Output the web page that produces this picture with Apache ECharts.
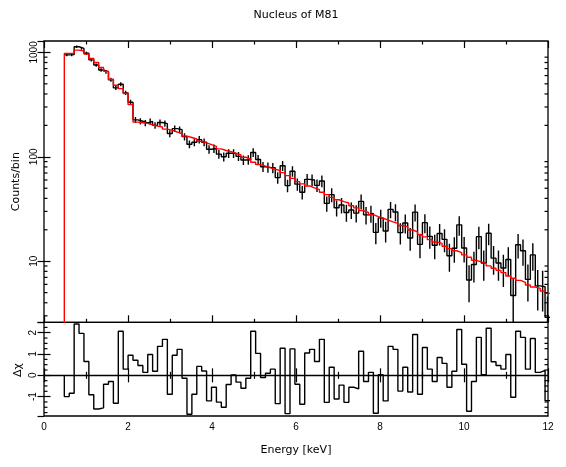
<!DOCTYPE html>
<html><head><meta charset="utf-8">
<script src="https://cdn.jsdelivr.net/npm/echarts@6/dist/echarts.min.js"></script>
<style>html,body{margin:0;padding:0;background:#fff}#c{width:566px;height:467px}</style>
</head><body><div id="c"></div>
<script>
// Bin edges in keV (99 bins)
const binEdges = [0.484,0.601,0.718,0.834,0.951,1.068,1.185,1.302,1.418,1.535,1.652,1.769,1.886,2.002,2.119,2.236,2.353,2.470,2.586,2.703,2.820,2.937,3.054,3.170,3.287,3.404,3.521,3.638,3.754,3.871,3.988,4.105,4.222,4.338,4.455,4.572,4.689,4.806,4.922,5.039,5.156,5.273,5.390,5.506,5.623,5.740,5.857,5.974,6.090,6.207,6.324,6.441,6.558,6.674,6.791,6.908,7.025,7.142,7.258,7.375,7.492,7.609,7.726,7.842,7.959,8.076,8.193,8.310,8.426,8.543,8.660,8.777,8.894,9.010,9.127,9.244,9.361,9.478,9.594,9.711,9.828,9.945,10.062,10.178,10.295,10.412,10.529,10.646,10.762,10.879,10.996,11.113,11.230,11.346,11.463,11.580,11.697,11.814,11.930,12.047];
// Model (red) counts per bin
const modelCounts = [978,978,1052,1029,963,875,801,718,661,554,485,450,404,316,
 215,212,209,203,197,193,184,179,173,166,158,153,148,141,136,131,126,119,115,112,108,104,99,95,
 88.7,84.3,81.3,78.3,76.0,73.8,70.6,66.1,62.2,57.8,55.0,52.6,50.4,48.5,45.7,43.4,40.9,38.8,37.2,36.1,34.0,32.4,30.5,29.3,27.9,26.7,25.8,24.8,23.8,23.0,22.0,
 21.4,19.9,19.1,17.9,17.1,16.1,15.3,14.8,13.9,13.2,12.6,12.1,11.5,10.9,10.2,9.84,9.48,9.02,8.57,8.18,7.78,7.23,6.87,6.56,6.28,5.92,5.66,5.50,5.18,4.92];
// Observed counts per bin
const dataCounts = [947,952,1133,1094,983,849,757,678,650,547,457,496,410,333,
 226,219,211,218,200,213,208,167,186,182,156,132,138,146,138,118,120,106,100,108,108,101,93.1,93.7,
 110,94.3,80.4,79.2,78.6,63.2,82.1,53.0,72.8,54.7,45.8,60.8,59.9,53.3,58.7,35.8,43.4,32.5,34.5,29.3,30.9,28.9,37.4,27.8,28.7,18.9,26.0,19.5,31.4,29.6,18.8,
 23.2,16.7,29.5,14.5,23.4,17.3,14.2,18.4,16.2,11.3,13.3,22.3,13.4,6.6,9.3,17.2,9.6,18.5,10.7,9.6,8.6,10.4,4.7,14.4,12.6,6.7,11.5,5.8,5.7,2.9];
// 1-sigma errors per bin
const dataErrors = [30.8,30.9,33.7,33.1,31.4,29.1,27.5,26.0,25.5,23.4,21.4,22.3,20.2,18.3,
 15.0,14.8,14.5,14.7,14.1,14.6,14.4,12.9,13.6,13.5,12.5,11.5,11.7,12.1,11.8,10.9,11.0,10.3,10.0,10.4,10.4,10.0,9.65,9.68,
 10.5,9.71,8.97,8.9,8.87,7.95,9.06,7.28,8.53,7.4,6.77,7.8,7.74,7.3,7.66,5.99,6.59,5.7,5.87,5.41,5.56,5.38,6.12,5.27,5.35,4.35,5.1,4.42,5.61,5.44,4.34,
 4.82,4.09,5.43,3.81,4.84,4.16,3.77,4.29,4.02,3.36,3.65,4.72,3.66,2.56,3.05,4.15,3.1,4.31,3.27,3.1,2.94,3.22,2.16,3.8,3.55,2.58,3.4,2.42,2.4,1.7];
// Residuals (delta chi) per bin
const residuals = [-1.00,-0.84,2.41,1.97,0.65,-0.91,-1.58,-1.53,-0.42,-0.29,-1.31,2.07,0.29,0.94,
 0.71,0.46,0.14,0.98,0.19,1.36,1.69,-0.89,0.94,1.22,-0.14,-1.83,-0.89,0.42,0.20,-1.20,-0.56,-1.26,-1.50,-0.43,0.02,-0.32,-0.61,-0.14,
 2.07,1.03,-0.10,0.10,0.29,-1.33,1.27,-1.80,1.24,-0.42,-1.36,1.05,1.22,0.65,1.69,-1.27,0.38,-1.11,-0.46,-1.27,-0.56,-0.64,1.13,-0.29,0.14,-1.78,0.03,-1.20,1.36,1.22,-0.74,
 0.38,-0.78,1.92,-0.89,1.31,0.29,-0.29,0.84,0.56,-0.56,0.19,2.15,0.52,-1.69,-0.29,1.78,0.03,2.21,0.64,0.46,0.29,0.98,-1.03,2.07,1.78,0.29,1.73,0.14,0.23,-1.19];
// Axis ticks
const logMinorTicks = [3,4,5,6,7,8,9,20,30,40,50,60,70,80,90,200,300,400,500,600,700,800,900];
const residMinorTicks = [-1.75,-1.5,-1.25,-0.75,-0.5,-0.25,0.25,0.5,0.75,1.25,1.5,1.75,2.25];
const titleText = 'Nucleus of M81';
const xTitle = 'Energy [keV]';
const yTitleTop = 'Counts/bin';
const yTitleBottom = 'Δχ';

const N = modelCounts.length;
const modelLine = [[binEdges[0], 1]];
const dataLine = [];
const resLine = [[binEdges[0], 0]];
const errBars = [];
for (let i = 0; i < N; i++) {
  modelLine.push([binEdges[i], modelCounts[i]]);
  dataLine.push([binEdges[i], dataCounts[i]]);
  resLine.push([binEdges[i], residuals[i]]);
  errBars.push([(binEdges[i] + binEdges[i + 1]) / 2, Math.max(dataCounts[i] - dataErrors[i], 0.5), dataCounts[i] + dataErrors[i]]);
}
modelLine.push([binEdges[N], modelCounts[N - 1]]);
dataLine.push([binEdges[N], dataCounts[N - 1]]);
resLine.push([binEdges[N], residuals[N - 1]]);

const BLACK = '#000';
const LW = 1.4;
const numFont = 'Liberation Sans';
const txtFont = 'DejaVu Sans';

function xAx(gridIndex, position, showLabels) {
  return {
    type: 'value', gridIndex, position, min: 0, max: 12, interval: 2,
    axisLine: { show: false }, splitLine: { show: false },
    axisTick: { show: true, inside: true, length: 7, lineStyle: { color: BLACK, width: 1.2 } },
    minorTick: { show: true, splitNumber: 2, length: 3.5, lineStyle: { color: BLACK, width: 1.2 } },
    minorSplitLine: { show: false },
    axisLabel: { show: showLabels, margin: 6, color: BLACK, fontFamily: numFont, fontSize: 10, formatter: v => String(v) }
  };
}
function yLog(position, showLabels) {
  return {
    type: 'log', logBase: 10, gridIndex: 0, position, min: 2.6, max: 1286,
    axisLine: { show: false }, splitLine: { show: false },
    axisTick: { show: true, inside: true, length: 6.5, lineStyle: { color: BLACK, width: 1.2 } },
    axisLabel: { show: showLabels, rotate: 90, margin: 5, showMinLabel: false, showMaxLabel: false,
      color: BLACK, fontFamily: numFont, fontSize: 10, formatter: v => String(Math.round(v)) }
  };
}
function yRes(position, showLabels) {
  return {
    type: 'value', gridIndex: 1, position, min: -1.91, max: 2.49,
    axisLine: { show: false }, splitLine: { show: false },
    axisTick: { show: true, inside: true, length: 6.5, lineStyle: { color: BLACK, width: 1.2 } },
    axisLabel: { show: showLabels, rotate: 90, margin: 6, showMinLabel: false, showMaxLabel: false,
      color: BLACK, fontFamily: numFont, fontSize: 10, formatter: v => String(v) }
  };
}
function minorTickRender(len, xMin, xMax) {
  return function (params, api) {
    const v = api.value(1);
    const pl = api.coord([xMin, v]);
    const pr = api.coord([xMax, v]);
    const st = { stroke: BLACK, lineWidth: 1.2 };
    return { type: 'group', children: [
      { type: 'line', shape: { x1: pl[0], y1: pl[1], x2: pl[0] + len, y2: pl[1] }, style: st },
      { type: 'line', shape: { x1: pr[0] - len, y1: pr[1], x2: pr[0], y2: pr[1] }, style: st }
    ] };
  };
}

const chart = echarts.init(document.getElementById('c'), null, { renderer: 'canvas' });
chart.setOption({
  animation: false,
  backgroundColor: '#fff',
  grid: [
    { left: 44, width: 504, top: 41, height: 281.3, show: true, borderColor: BLACK, borderWidth: 1.3, backgroundColor: 'transparent', containLabel: false, outerBoundsMode: 'none' },
    { left: 44, width: 504, top: 322.3, height: 93.7, show: true, borderColor: BLACK, borderWidth: 1.3, backgroundColor: 'transparent', containLabel: false, outerBoundsMode: 'none' }
  ],
  xAxis: [xAx(0, 'bottom', false), xAx(0, 'top', false), xAx(1, 'bottom', true), xAx(1, 'top', false)],
  yAxis: [yLog('left', true), yLog('right', false), yRes('left', true), yRes('right', false)],
  graphic: [
    { type: 'text', x: 296, y: 15, style: { text: titleText, fill: BLACK, font: '11px "' + txtFont + '"', align: 'center', verticalAlign: 'middle', textAlign: 'center', textVerticalAlign: 'middle' } },
    { type: 'text', x: 296, y: 450, style: { text: xTitle, fill: BLACK, font: '11px "' + txtFont + '"', align: 'center', verticalAlign: 'middle', textAlign: 'center', textVerticalAlign: 'middle' } },
    { type: 'text', x: 16, y: 181.7, rotation: Math.PI / 2, style: { text: yTitleTop, fill: BLACK, font: '11px "' + txtFont + '"', align: 'center', verticalAlign: 'middle', textAlign: 'center', textVerticalAlign: 'middle' } },
    { type: 'text', x: 18, y: 370, rotation: Math.PI / 2, style: { text: yTitleBottom, fill: BLACK, font: '11px "' + txtFont + '"', align: 'center', verticalAlign: 'middle', textAlign: 'center', textVerticalAlign: 'middle' } }
  ],
  series: [
    { type: 'line', name: 'data', xAxisIndex: 0, yAxisIndex: 0, data: dataLine, step: 'end', showSymbol: false, symbol: 'none', clip: true, silent: true,
      lineStyle: { color: BLACK, width: LW }, z: 2 },
    { type: 'custom', name: 'errors', xAxisIndex: 0, yAxisIndex: 0, data: errBars, clip: true, silent: true, z: 2,
      encode: { x: 0, y: [1, 2] },
      renderItem: function (params, api) {
        const a = api.coord([api.value(0), api.value(1)]);
        const b = api.coord([api.value(0), api.value(2)]);
        return { type: 'line', shape: { x1: a[0], y1: a[1], x2: b[0], y2: b[1] }, style: { stroke: BLACK, lineWidth: LW } };
      } },
    { type: 'line', name: 'model', xAxisIndex: 0, yAxisIndex: 0, data: modelLine, step: 'end', showSymbol: false, symbol: 'none', clip: true, silent: true,
      lineStyle: { color: '#ff0000', width: LW }, z: 3 },
    { type: 'custom', name: 'logMinor', xAxisIndex: 0, yAxisIndex: 0, data: logMinorTicks.map(v => [0, v]), silent: true, z: 4,
      renderItem: minorTickRender(3.5, 0, 12) },
    { type: 'line', name: 'residuals', xAxisIndex: 2, yAxisIndex: 2, data: resLine, step: 'end', showSymbol: false, symbol: 'none', clip: true, silent: true,
      lineStyle: { color: BLACK, width: LW }, z: 2,
      markLine: { silent: true, symbol: 'none', label: { show: false }, lineStyle: { color: BLACK, width: 1.3, type: 'solid' }, data: [{ yAxis: 0 }] } },
    { type: 'custom', name: 'resMinor', xAxisIndex: 2, yAxisIndex: 2, data: residMinorTicks.map(v => [0, v]), silent: true, z: 4,
      renderItem: minorTickRender(3.5, 0, 12) }
  ]
});
</script>
</body></html>
